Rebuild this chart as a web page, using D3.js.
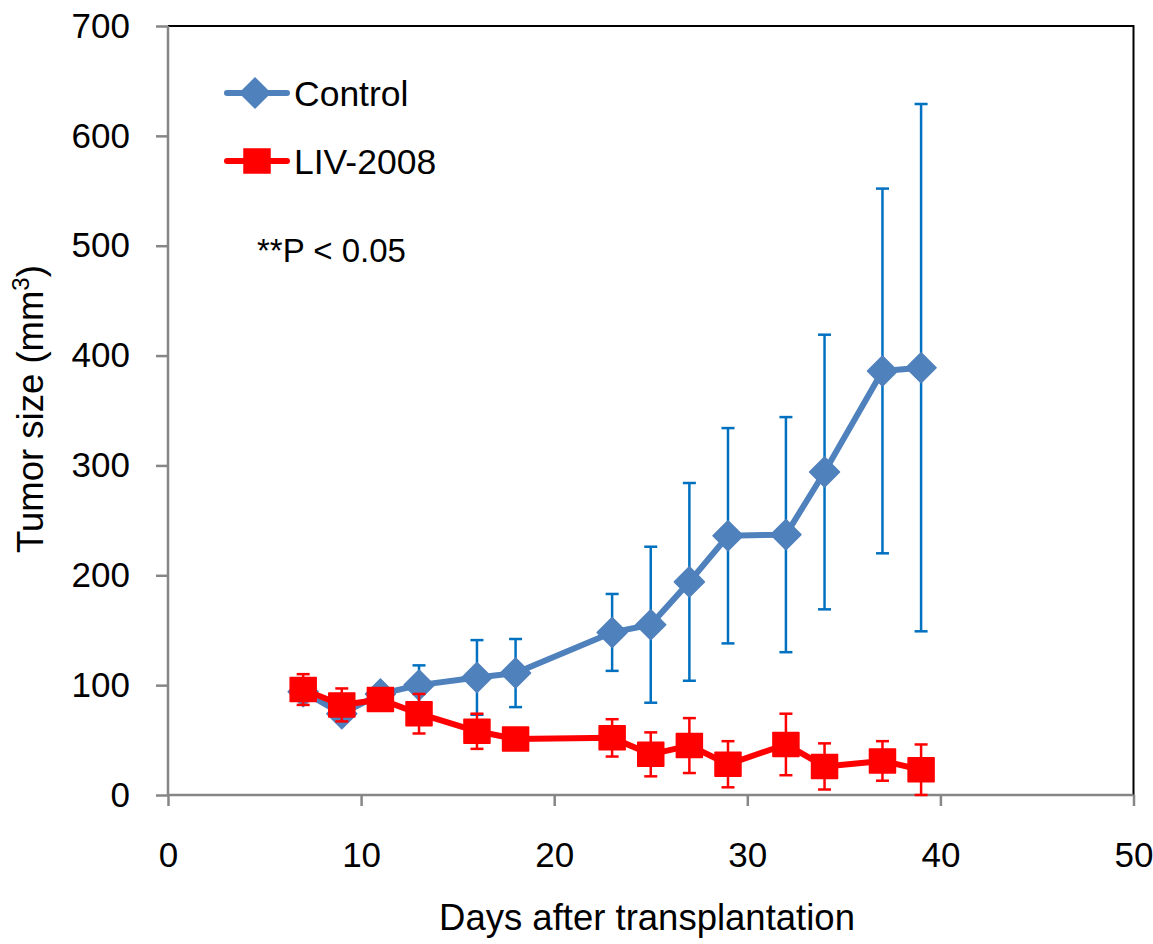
<!DOCTYPE html>
<html>
<head>
<meta charset="utf-8">
<script src="https://cdn.jsdelivr.net/npm/d3@7"></script>
<style>
  body { margin: 0; background: #fff; }
  text { font-family: "Liberation Sans", Arial, sans-serif; fill: #000; }
</style>
</head>
<body>
<div id="chart"></div>
<script>
// data
var days = [7, 9, 11, 13, 16, 18, 23, 25, 27, 29, 32, 34, 37, 39];
var controlMean = [94, 74, 92, 100, 107, 111, 148, 155, 194, 236, 237, 294, 386, 389];
var controlSD   = [5, 6, 6, 18, 34, 31, 35, 71, 90, 98, 107, 125, 166, 240];
var livMean = [96, 82, 87, 74, 58, 51, 52, 37, 45, 28, 46, 26, 31, 23];
var livSD   = [14, 15, 6, 18, 16, 4, 17, 20, 25, 21, 28, 21, 18, 23];
var xTicks = [0, 10, 20, 30, 40, 50];
var yTicks = [0, 100, 200, 300, 400, 500, 600, 700];

var W = 1153, H = 944;
var margin = {top: 26, right: 20, bottom: 149, left: 168};
var width = 1133.5 - margin.left;
var height = 795 - margin.top;

var svg = d3.select("#chart")
    .append("svg")
    .attr("width", W)
    .attr("height", H);

var g = svg.append("g")
    .attr("transform", "translate(" + margin.left + "," + margin.top + ")");

var x = d3.scaleLinear().domain([0, 50]).range([0, width]);
var y = d3.scaleLinear().domain([0, 700]).range([height, 0]);

// top and right frame (black)
g.append("path")
    .attr("d", "M0,0H" + width + "V" + height)
    .attr("fill", "none")
    .attr("stroke", "#000")
    .attr("stroke-width", 2);

// axes
var xAxis = g.append("g")
    .attr("transform", "translate(0," + height + ")")
    .call(d3.axisBottom(x).tickValues(xTicks).tickSize(11).tickPadding(36));
var yAxis = g.append("g")
    .call(d3.axisLeft(y).tickValues(yTicks).tickSize(12).tickPadding(26));

[xAxis, yAxis].forEach(function (ax) {
    ax.select(".domain").attr("stroke", "#868686").attr("stroke-width", 2.5);
    ax.selectAll(".tick line").attr("stroke", "#868686").attr("stroke-width", 2.5);
    ax.selectAll(".tick text")
        .attr("font-family", "Liberation Sans, Arial, sans-serif")
        .attr("font-size", 35)
        .attr("fill", "#000");
});
xAxis.select(".domain").attr("d", "M0,0H" + width);
yAxis.select(".domain").attr("d", "M0," + height + "V0");

// series
var series = [
    {name: "Control", mean: controlMean, sd: controlSD, line: "#4F81BD", err: "#0070C0", marker: "diamond"},
    {name: "LIV-2008", mean: livMean, sd: livSD, line: "#FF0000", err: "#FF0000", marker: "square"}
];

function markerPath(type) {
    if (type === "diamond") return "M0,-15L15,0L0,15L-15,0Z";
    return "M-13,-12H13V12H-13Z";
}

var line = d3.line()
    .x(function (d) { return x(d[0]); })
    .y(function (d) { return y(d[1]); });

series.forEach(function (s) {
    var pts = days.map(function (d, i) { return [d, s.mean[i], s.sd[i]]; });
    var sg = g.append("g");

    var eb = sg.selectAll(".err")
        .data(pts)
        .enter()
        .append("g")
        .attr("stroke", s.err)
        .attr("stroke-width", 2.5);
    eb.append("line")
        .attr("x1", function (d) { return x(d[0]); })
        .attr("x2", function (d) { return x(d[0]); })
        .attr("y1", function (d) { return y(d[1] + d[2]); })
        .attr("y2", function (d) { return y(Math.max(0, d[1] - d[2])); });
    eb.append("line")
        .attr("x1", function (d) { return x(d[0]) - 6.5; })
        .attr("x2", function (d) { return x(d[0]) + 6.5; })
        .attr("y1", function (d) { return y(d[1] + d[2]); })
        .attr("y2", function (d) { return y(d[1] + d[2]); });
    eb.append("line")
        .attr("x1", function (d) { return x(d[0]) - 6.5; })
        .attr("x2", function (d) { return x(d[0]) + 6.5; })
        .attr("y1", function (d) { return y(Math.max(0, d[1] - d[2])); })
        .attr("y2", function (d) { return y(Math.max(0, d[1] - d[2])); });

    sg.append("path")
        .datum(pts)
        .attr("d", line)
        .attr("fill", "none")
        .attr("stroke", s.line)
        .attr("stroke-width", 6)
        .attr("stroke-linejoin", "round");

    sg.selectAll(".mk")
        .data(pts)
        .enter()
        .append("path")
        .attr("d", markerPath(s.marker))
        .attr("transform", function (d) { return "translate(" + x(d[0]) + "," + y(d[1]) + ")"; })
        .attr("fill", s.line)
        .attr("stroke", s.line)
        .attr("stroke-width", 1.5)
        .attr("stroke-linejoin", "round");
});

// legend
var legY = [93, 161];
series.forEach(function (s, i) {
    var lg = svg.append("g").attr("transform", "translate(0," + legY[i] + ")");
    lg.append("line")
        .attr("x1", 227).attr("x2", 287)
        .attr("stroke", s.line)
        .attr("stroke-width", 6)
        .attr("stroke-linecap", "round");
    lg.append("path")
        .attr("d", markerPath(s.marker))
        .attr("transform", "translate(" + (s.marker === "diamond" ? 255 : 257) + ",0)")
        .attr("fill", s.line)
        .attr("stroke", s.line)
        .attr("stroke-width", 1.5);
    lg.append("text")
        .attr("x", 294)
        .attr("y", 12.5)
        .attr("font-size", 35.5)
        .text(s.name);
});

svg.append("text")
    .attr("x", 257)
    .attr("y", 262)
    .attr("font-size", 33)
    .text("**P < 0.05");

// axis titles
svg.append("text")
    .attr("x", 647)
    .attr("y", 930)
    .attr("text-anchor", "middle")
    .attr("font-size", 36.5)
    .text("Days after transplantation");

var yt = svg.append("text")
    .attr("transform", "translate(43,409) rotate(-90)")
    .attr("text-anchor", "middle")
    .attr("font-size", 36.5);
yt.append("tspan").text("Tumor size (mm");
yt.append("tspan").attr("font-size", 24).attr("dy", -14).text("3");
yt.append("tspan").attr("dy", 14).text(")");
</script>
</body>
</html>
